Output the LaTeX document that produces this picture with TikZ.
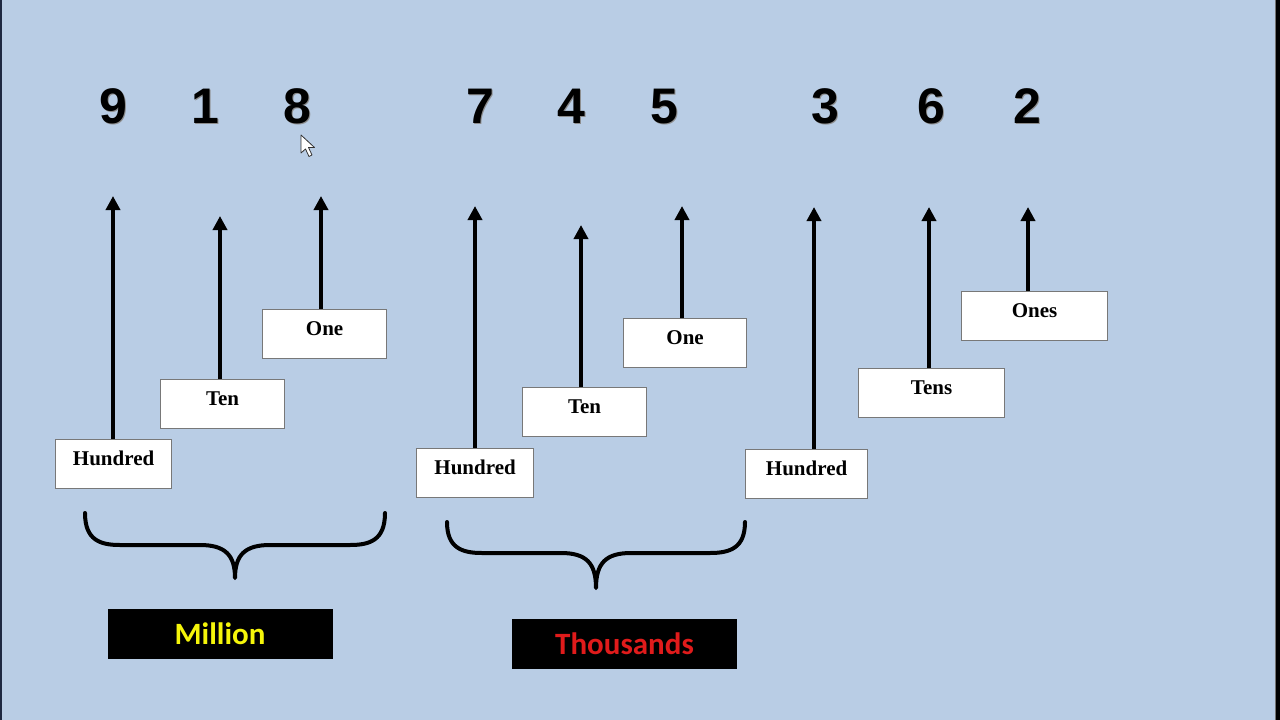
\documentclass[tikz,border=0pt]{standalone}
\usepackage{fontspec}
\setmainfont{Liberation Serif}
\newfontfamily\digitfont{Liberation Sans}
\newfontfamily\tagfont{Carlito}
\usetikzlibrary{arrows.meta}
\definecolor{bg}{RGB}{185,205,229}
\definecolor{boxgray}{RGB}{120,120,120}
\definecolor{milyellow}{RGB}{245,245,10}
\definecolor{thored}{RGB}{224,27,27}
\definecolor{edgenavy}{RGB}{30,40,65}
\begin{document}
\begin{tikzpicture}[x=1pt,y=-1pt,
  placebox/.style={draw=boxgray, line width=1.2pt, fill=white, anchor=north west,
    inner xsep=0pt, inner ysep=0pt, minimum height=49pt,
    font=\fontsize{21}{22}\selectfont\bfseries, text height=26pt, text depth=23pt},
  digit/.style={anchor=base, inner sep=0pt, font=\digitfont\bfseries\fontsize{50}{50}\selectfont},
  digitshadow/.style={digit, text=black!45},
  uparrow/.style={line width=4pt, -{Triangle[width=14pt,length=14pt]}},
  bracestyle/.style={line width=4pt, line cap=round, line join=round},
  tagbox/.style={fill=black, minimum width=225pt, minimum height=50pt, inner sep=0pt,
    font=\tagfont\bfseries\fontsize{31}{31}\selectfont, text height=20pt, text depth=0pt}
]
\useasboundingbox (0,0) rectangle (1280,720);
\fill[bg] (0,0) rectangle (1280,720);
\fill[edgenavy] (0,0) rectangle (1.5,720);
\fill[black] (1276,0) rectangle (1280,720);
\fill[black!55] (1275,0) rectangle (1276,720);

% digits
\foreach \d/\x [count=\i] in {9/113,1/205,8/297,7/480,4/571,5/664,3/825,6/931,2/1027}{
  \node[digitshadow] at (\x+1.5,124.5) {\d};
  \node[digit] (d\i) at (\x,123) {\d};
}

% mouse cursor
\draw[fill=white, draw=black!80, line width=0.8pt, line join=round]
  (301,135) -- (301,153) -- (305.5,149) -- (309,156.5) -- (312,155) -- (308.5,147.5) -- (314.5,147.5) -- cycle;

% place value boxes
\node[placebox, minimum width=116pt] (h1) at (55,439) {Hundred};
\node[placebox, minimum width=124pt] (t1) at (160,379) {Ten};
\node[placebox, minimum width=124pt] (o1) at (262,309) {One};
\node[placebox, minimum width=117pt] (h2) at (416,448) {Hundred};
\node[placebox, minimum width=124pt] (t2) at (522,387) {Ten};
\node[placebox, minimum width=123pt] (o2) at (623,318) {One};
\node[placebox, minimum width=122pt] (h3) at (745,449) {Hundred};
\node[placebox, minimum width=146pt] (t3) at (858,368) {Tens};
\node[placebox, minimum width=146pt] (o3) at (961,291) {Ones};

% arrow tips
\coordinate (a1) at (113,196);
\coordinate (a2) at (220,216);
\coordinate (a3) at (321,196);
\coordinate (a4) at (475,206);
\coordinate (a5) at (581,225);
\coordinate (a6) at (682,206);
\coordinate (a7) at (814,207);
\coordinate (a8) at (929,207);
\coordinate (a9) at (1028,207);

\draw[uparrow] (a1 |- h1.north) -- (a1);
\draw[uparrow] (a2 |- t1.north) -- (a2);
\draw[uparrow] (a3 |- o1.north) -- (a3);
\draw[uparrow] (a4 |- h2.north) -- (a4);
\draw[uparrow] (a5 |- t2.north) -- (a5);
\draw[uparrow] (a6 |- o2.north) -- (a6);
\draw[uparrow] (a7 |- h3.north) -- (a7);
\draw[uparrow] (a8 |- t3.north) -- (a8);
\draw[uparrow] (a9 |- o3.north) -- (a9);

% braces
\draw[bracestyle] (85,513) .. controls (85,540) and (100,545) .. (120,545)
  -- (200,545) .. controls (225,545) and (235,555) .. (235,578)
  .. controls (235,555) and (245,545) .. (270,545)
  -- (350,545) .. controls (370,545) and (385,540) .. (385,513);
\draw[bracestyle] (447,522) .. controls (447,548) and (462,553) .. (482,553)
  -- (561,553) .. controls (586,553) and (596,563) .. (596,588)
  .. controls (596,563) and (606,553) .. (631,553)
  -- (710,553) .. controls (730,553) and (745,548) .. (745,522);

% group labels
\node[tagbox, text=milyellow] (mil) at (220,634) {Million};
\node[tagbox, text=thored] (tho) at (624.5,644) {Thousands};
\end{tikzpicture}
\end{document}
